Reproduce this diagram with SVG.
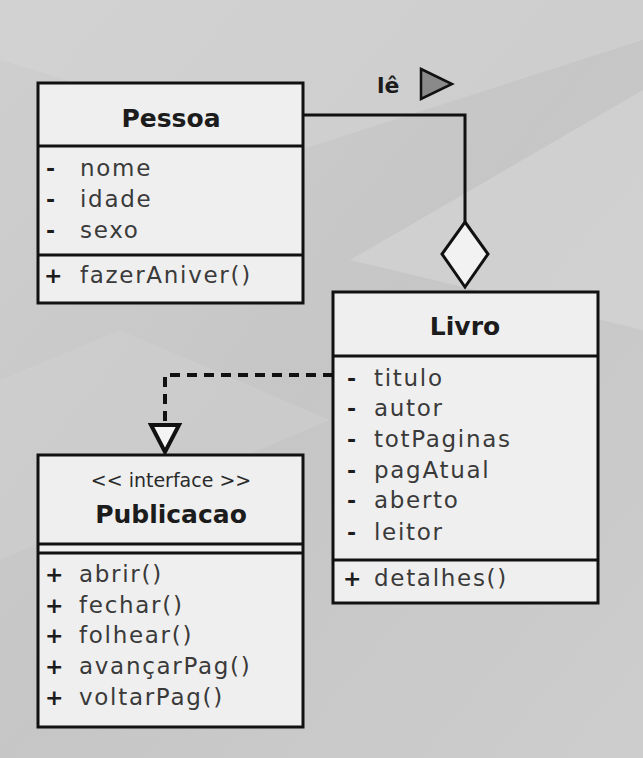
<svg xmlns="http://www.w3.org/2000/svg" width="643" height="758" viewBox="0 0 643 758">
<defs>
<linearGradient id="bg" x1="0" y1="0" x2="1" y2="1">
<stop offset="0" stop-color="#cfcfcf"/>
<stop offset="0.5" stop-color="#c6c6c6"/>
<stop offset="1" stop-color="#cdcdcd"/>
</linearGradient>
<style>
.box{fill:#efefef;stroke:#111;stroke-width:3}
.div{stroke:#111;stroke-width:3}
.title{font-family:"DejaVu Sans",sans-serif;font-weight:bold;font-size:25px;fill:#1c1c1c;text-anchor:middle}
.item{font-family:"DejaVu Sans",sans-serif;font-size:23px;fill:#3a3a3a;letter-spacing:1.7px}
.vis{font-family:"DejaVu Sans",sans-serif;font-weight:bold;font-size:22px;fill:#1c1c1c}
.stereo{font-family:"DejaVu Sans",sans-serif;font-size:19px;fill:#2a2a2a;text-anchor:middle}
.conn{fill:none;stroke:#111;stroke-width:3}
</style>
</defs>
<rect width="643" height="758" fill="url(#bg)"/>
<polygon points="0,0 643,0 643,40 300,150 0,60" fill="#d6d6d6" opacity="0.5"/>
<polygon points="350,260 643,90 643,330" fill="#d9d9d9" opacity="0.5"/>
<polygon points="0,380 120,330 330,420 0,560" fill="#d2d2d2" opacity="0.4"/>

<g id="connectors">
<polyline class="conn" points="303,115 465,115 465,222"/>
<polygon points="465,222 488,254 465,287 442,254" fill="#f2f2f2" stroke="#111" stroke-width="3"/>
<polyline points="333,375 165,375 165,425" fill="none" stroke="#111" stroke-width="4" stroke-dasharray="10,7"/>
<polygon points="151,425 179,425 165,452" fill="#f4f4f4" stroke="#111" stroke-width="4" stroke-linejoin="miter"/>
<text x="377" y="93" font-family="DejaVu Sans, sans-serif" font-weight="bold" font-size="22" fill="#1c1c1c">lê</text>
<polygon points="421,69 452,84 421,99" fill="#8a8a8a" stroke="#111" stroke-width="2.5"/>
</g>

<g id="pessoa">
<rect class="box" x="38" y="83" width="265" height="220"/>
<line class="div" x1="38" y1="146" x2="303" y2="146"/>
<line class="div" x1="38" y1="255" x2="303" y2="255"/>
<text class="title" x="171" y="127">Pessoa</text>
<text class="vis" x="46" y="176">-</text><text class="item" x="80" y="176">nome</text>
<text class="vis" x="46" y="207">-</text><text class="item" x="80" y="207">idade</text>
<text class="vis" x="46" y="238">-</text><text class="item" x="80" y="238">sexo</text>
<text class="vis" x="44" y="283">+</text><text class="item" x="80" y="283">fazerAniver()</text>
</g>

<g id="livro">
<rect class="box" x="333" y="292" width="265" height="311"/>
<line class="div" x1="333" y1="356" x2="598" y2="356"/>
<line class="div" x1="333" y1="560" x2="598" y2="560"/>
<text class="title" x="465" y="335">Livro</text>
<text class="vis" x="347" y="386">-</text><text class="item" x="374" y="386">titulo</text>
<text class="vis" x="347" y="416">-</text><text class="item" x="374" y="416">autor</text>
<text class="vis" x="347" y="447">-</text><text class="item" x="374" y="447">totPaginas</text>
<text class="vis" x="347" y="478">-</text><text class="item" x="374" y="478">pagAtual</text>
<text class="vis" x="347" y="508">-</text><text class="item" x="374" y="508">aberto</text>
<text class="vis" x="347" y="540">-</text><text class="item" x="374" y="540">leitor</text>
<text class="vis" x="343" y="586">+</text><text class="item" x="374" y="586">detalhes()</text>
</g>

<g id="publicacao">
<rect class="box" x="38" y="455" width="265" height="272"/>
<line class="div" x1="38" y1="544" x2="303" y2="544"/>
<line class="div" x1="38" y1="553" x2="303" y2="553"/>
<text class="stereo" x="171" y="487">&lt;&lt; interface &gt;&gt;</text>
<text class="title" x="171" y="523">Publicacao</text>
<text class="vis" x="45" y="582">+</text><text class="item" x="79" y="582">abrir()</text>
<text class="vis" x="45" y="613">+</text><text class="item" x="79" y="613">fechar()</text>
<text class="vis" x="45" y="643">+</text><text class="item" x="79" y="643">folhear()</text>
<text class="vis" x="45" y="674">+</text><text class="item" x="79" y="674">avançarPag()</text>
<text class="vis" x="45" y="705">+</text><text class="item" x="79" y="705">voltarPag()</text>
</g>
</svg>
